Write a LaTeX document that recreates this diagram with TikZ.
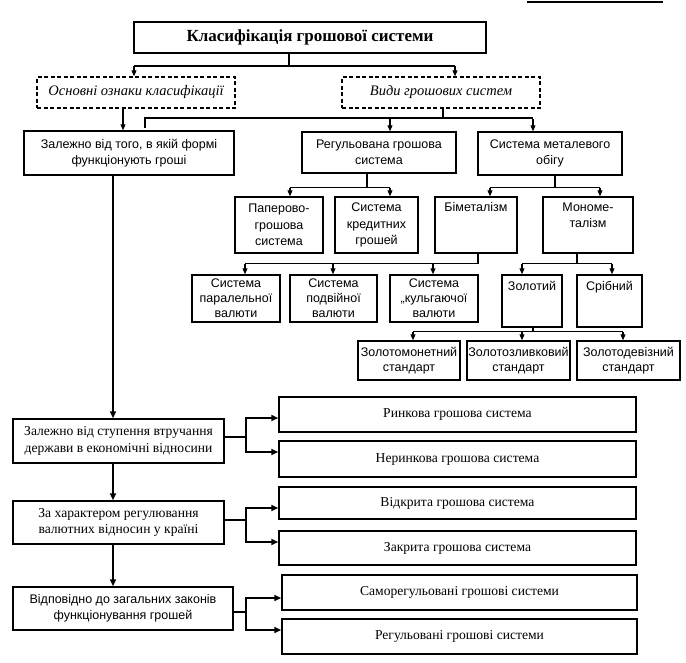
\documentclass[tikz,border=0pt]{standalone}
\usepackage{fontspec}
\setmainfont{Liberation Serif}
\setsansfont{Liberation Sans}
\usetikzlibrary{arrows.meta,calc}
\begin{document}
\begin{tikzpicture}[x=1pt,y=-1pt,
  box/.style={draw, line width=1.5pt, inner sep=0pt, align=center, font=\sffamily\fontsize{12.5}{16.5}\selectfont},
  sbox/.style={box, font=\sffamily\fontsize{12.5}{15}\selectfont},
  rbox/.style={box, font=\rmfamily\fontsize{13.6}{16.5}\selectfont},
  dbox/.style={draw, line width=1.5pt, dash pattern=on 4pt off 2.5pt, inner sep=0pt, font=\rmfamily\itshape\fontsize{14.5}{16}\selectfont},
  txt/.style={inner sep=0pt, align=center, anchor=north, font=\sffamily\fontsize{12.5}{16.5}\selectfont},
  ln/.style={line width=1.1pt},
  arr/.style={line width=1.1pt, -{Triangle[length=6pt,width=5pt]}},
  tarr/.style={line width=2pt, -{Triangle[length=7pt,width=6pt]}}
]
\useasboundingbox (0,0) rectangle (686,662);
\draw[ln] (527,2) -- (663,2);

% top
\node[box, font=\rmfamily\bfseries\fontsize{17}{20}\selectfont, minimum width=352, minimum height=31] (title) at (310,37.5) {Класифікація грошової системи};
\node[dbox, minimum width=198, minimum height=31] (d1) at (136,92.5) {Основні ознаки класифікації};
\node[dbox, minimum width=198, minimum height=31] (d2) at (441,92.5) {Види грошових систем};

% upper tree
\node[box, minimum width=210, minimum height=44] (A) at (129,153) {Залежно від того, в якій формі\\функціонують гроші};
\node[box, minimum width=154, minimum height=41] (reg) at (379,152.5) {Регульована грошова\\система};
\node[box, minimum width=144, minimum height=43] (met) at (550,153.5) {Система металевого\\обігу};
\node[box, minimum width=88, minimum height=56] (pap) at (279,225) {Паперово-\\грошова\\система};
\node[box, minimum width=83, minimum height=56] (kred) at (376.5,225) {Система\\кредитних\\грошей};
\node[box, minimum width=82, minimum height=56] (bim) at (476,225) {};
\node[txt] (bimt) at ([yshift=-6pt]bim.north) {Біметалізм};
\node[box, minimum width=90, minimum height=56] (mono) at (588,225) {};
\node[txt] (monot) at ([yshift=-6pt]mono.north) {Мономе-\\талізм};
\node[sbox, minimum width=88, minimum height=47] (par) at (236,298.5) {Система\\паралельної\\валюти};
\node[sbox, minimum width=87, minimum height=47] (podv) at (333.5,298.5) {Система\\подвійної\\валюти};
\node[sbox, minimum width=88, minimum height=47] (kulg) at (434,298.5) {Система\\„кульгаючої\\валюти};
\node[box, minimum width=60, minimum height=52] (zol) at (532,301) {};
\node[txt] (zolt) at ([yshift=-7pt]zol.north) {Золотий};
\node[box, minimum width=65, minimum height=52] (sreb) at (609.5,301) {};
\node[txt] (srebt) at ([yshift=-7pt]sreb.north) {Срібний};
\node[sbox, minimum width=102, minimum height=39] (zm) at (409,360.5) {Золотомонетний\\стандарт};
\node[sbox, minimum width=103, minimum height=39] (zz) at (518.5,360.5) {Золотозливковий\\стандарт};
\node[sbox, minimum width=103, minimum height=39] (zd) at (628.5,360.5) {Золотодевізний\\стандарт};

% lower left
\node[rbox, minimum width=211, minimum height=44] (B1) at (118.5,441) {Залежно від ступення втручання\\держави в економічні відносини};
\node[rbox, minimum width=211, minimum height=43] (B2) at (118.5,522.5) {За характером регулювання\\валютних відносин у країні};
\node[box, minimum width=220, minimum height=43] (B3) at (123,608.5) {Відповідно до загальних законів\\функціонування грошей};

% lower right
\node[rbox, minimum width=357, minimum height=35] (R1) at (457.5,414.5) {Ринкова грошова система};
\node[rbox, minimum width=357, minimum height=36] (R2) at (457.5,459) {Неринкова грошова система};
\node[rbox, minimum width=357, minimum height=32] (R3) at (457.5,503) {Відкрита грошова система};
\node[rbox, minimum width=357, minimum height=34] (R4) at (457.5,548) {Закрита грошова система};
\node[rbox, minimum width=355, minimum height=35] (R5) at (459.5,592.5) {Саморегульовані грошові системи};
\node[rbox, minimum width=355, minimum height=35] (R6) at (459.5,636.5) {Регульовані грошові системи};

% connectors: title -> dashed boxes
\coordinate (tj) at (289,66);
\coordinate (d1n) at ([xshift=-2pt]d1.north);
\coordinate (d2n) at ([xshift=14pt]d2.north);
\draw[ln] (title.south -| tj) -- (tj);
\draw[ln] (d1n |- tj) -- (d2n |- tj);
\draw[arr] (d1n |- tj) -- (d1n);
\draw[arr] (d2n |- tj) -- (d2n);

% d1 -> A
\coordinate (d1s) at ([xshift=-13pt]d1.south);
\draw[arr] (d1s) -- (d1s |- A.north);

% d2 -> reg, met
\coordinate (d2s) at ([xshift=2pt]d2.south);
\coordinate (h2) at ([yshift=-10pt]d2s);
\coordinate (regn) at ([xshift=11pt]reg.north);
\coordinate (metn) at ([xshift=-17pt]met.north);
\coordinate (hl) at (145,118);
\draw[ln] (d2s) -- (h2);
\draw[ln] ([yshift=-10pt]hl) -- (hl) -- (metn |- hl);
\draw[arr] (regn |- h2) -- (regn);
\draw[arr] (metn |- h2) -- (metn);

% reg -> pap, kred
\coordinate (regs) at ([xshift=-12pt]reg.south);
\coordinate (h3) at ([yshift=-14pt]regs);
\coordinate (papn) at ([xshift=11pt]pap.north);
\coordinate (kredn) at ([xshift=13.5pt]kred.north);
\draw[ln] (regs) -- (h3);
\draw[ln] (papn |- h3) -- (kredn |- h3);
\draw[arr] (papn |- h3) -- (papn);
\draw[arr] (kredn |- h3) -- (kredn);

% met -> bim, mono
\coordinate (mets) at ([xshift=5pt]met.south);
\coordinate (h4) at ([yshift=-12pt]mets);
\coordinate (bimn) at ([xshift=14pt]bim.north);
\coordinate (monon) at ([xshift=12pt]mono.north);
\draw[ln] (mets) -- (h4);
\draw[ln] (bimn |- h4) -- (monon |- h4);
\draw[arr] (bimn |- h4) -- (bimn);
\draw[arr] (monon |- h4) -- (monon);

% bim -> par, podv, kulg
\coordinate (bims) at ([xshift=2pt]bim.south);
\coordinate (h5) at ([yshift=-10pt]bims);
\coordinate (parn) at ([xshift=9pt]par.north);
\coordinate (podvn) at ([xshift=-0.5pt]podv.north);
\coordinate (kulgn) at ([xshift=-1pt]kulg.north);
\draw[ln] (bims) -- (h5) -- (parn |- h5);
\draw[arr] (parn |- h5) -- (parn);
\draw[arr] (podvn |- h5) -- (podvn);
\draw[arr] (kulgn |- h5) -- (kulgn);

% mono -> zol, sreb
\coordinate (monos) at ([xshift=-11pt]mono.south);
\coordinate (h6) at ([yshift=-10pt]monos);
\coordinate (zoln) at ([xshift=-10pt]zol.north);
\coordinate (srebn) at ([xshift=2.5pt]sreb.north);
\draw[ln] (monos) -- (h6);
\draw[ln] (zoln |- h6) -- (srebn |- h6);
\draw[arr] (zoln |- h6) -- (zoln);
\draw[arr] (srebn |- h6) -- (srebn);

% zol -> zm, zz, zd
\coordinate (zols) at ([xshift=1pt]zol.south);
\coordinate (h7) at ([yshift=-4pt]zols);
\coordinate (zmn) at ([xshift=4pt]zm.north);
\coordinate (zzn) at ([xshift=3.5pt]zz.north);
\coordinate (zdn) at ([xshift=-5.5pt]zd.north);
\draw[ln] (zols) -- (h7);
\draw[ln] (zmn |- h7) -- (zdn |- h7);
\draw[arr] (zmn |- h7) -- (zmn);
\draw[arr] (zzn |- h7) -- (zzn);
\draw[arr] (zdn |- h7) -- (zdn);

% left spine
\coordinate (As) at ([xshift=-16pt]A.south);
\draw[tarr] (As) -- (As |- B1.north);
\coordinate (B1s) at ([xshift=-5.5pt]B1.south);
\draw[tarr] (B1s) -- (B1s |- B2.north);
\coordinate (B2s) at ([xshift=-5.5pt]B2.south);
\draw[tarr] (B2s) -- (B2s |- B3.north);

% B1 -> R1, R2
\coordinate (B1e) at ([yshift=4pt]B1.east);
\coordinate (j1) at ([xshift=21pt]B1e);
\draw[ln] (B1e) -- (j1);
\draw[tarr] (j1) |- ([yshift=-3.5pt]R1.west);
\draw[tarr] (j1) |- ([yshift=7pt]R2.west);

% B2 -> R3, R4
\coordinate (B2e) at ([yshift=2.5pt]B2.east);
\coordinate (j2) at ([xshift=21pt]B2e);
\draw[ln] (B2e) -- (j2);
\draw[tarr] (j2) |- ([yshift=-5pt]R3.west);
\draw[tarr] (j2) |- ([yshift=6pt]R4.west);

% B3 -> R5, R6
\coordinate (B3e) at ([yshift=-3.5pt]B3.east);
\coordinate (j3) at ([xshift=12pt]B3e);
\draw[ln] (B3e) -- (j3);
\draw[tarr] (j3) |- ([yshift=-5.5pt]R5.west);
\draw[tarr] (j3) |- ([yshift=6.5pt]R6.west);
\end{tikzpicture}
\end{document}
